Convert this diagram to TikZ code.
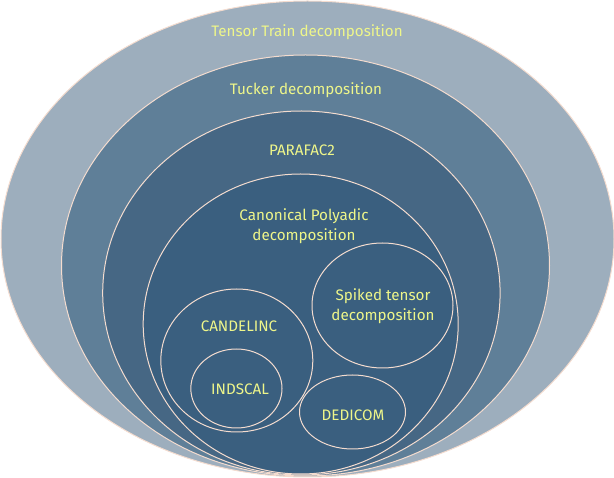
\documentclass[tikz,border=0pt]{standalone}
\usepackage{fontspec}
\setmainfont{Fira Sans}
\usepackage{tikz}
\definecolor{ttfill}{HTML}{9DAEBD}
\definecolor{tkfill}{HTML}{5F7F98}
\definecolor{pffill}{HTML}{466784}
\definecolor{cpfill}{HTML}{3A5F7F}
\definecolor{rim}{HTML}{F4DCCF}
\definecolor{lbl}{HTML}{EEF68A}

\begin{document}
\begin{tikzpicture}[x=1pt, y=-1pt,
  ring/.style={draw=rim, line width=1pt},
  lab/.style={text=lbl, font=\fontsize{15.2}{19.5}\selectfont, align=center, inner sep=0pt}]
  \useasboundingbox (0,0) rectangle (614,478);
  % ---------------------------------------------------------------- nested families, outside in
  \filldraw[ring, fill=ttfill] (307.5,239) ellipse [x radius=306.5, y radius=238];
  \filldraw[ring, fill=tkfill] (305.5,265.5) ellipse [x radius=244, y radius=210.5];
  \filldraw[ring, fill=pffill] (301.4,293) ellipse [x radius=198.7, y radius=182];
  \filldraw[ring, fill=cpfill] (300.7,324) ellipse [x radius=157.5, y radius=150];
  % ---------------------------------------------------------------- special cases of CP
  \filldraw[ring, fill=cpfill] (236.8,360.5) ellipse [x radius=76, y radius=71.5];
  \filldraw[ring, fill=cpfill] (236.4,388.5) ellipse [x radius=45.6, y radius=39.5];
  \filldraw[ring, fill=cpfill] (382.5,305.5) ellipse [x radius=70.5, y radius=62.5];
  \filldraw[ring, fill=cpfill] (352.5,412) ellipse [x radius=53, y radius=37];
  % ---------------------------------------------------------------- labels
  \node[lab] (tt) at (307,32) {Tensor Train decomposition};
  \node[lab] (tk) at (306,90) {Tucker decomposition};
  \node[lab] (pf) at (302,150) {PARAFAC2};
  \node[lab] (cp) at (304,226) {Canonical Polyadic\\decomposition};
  \node[lab] (cl) at (239,326) {CANDELINC};
  \node[lab] (ind) at (240,389) {INDSCAL};
  \node[lab] (spk) at (383,306) {Spiked tensor\\decomposition};
  \node[lab] (ded) at (353,415) {DEDICOM};
\end{tikzpicture}
\end{document}
